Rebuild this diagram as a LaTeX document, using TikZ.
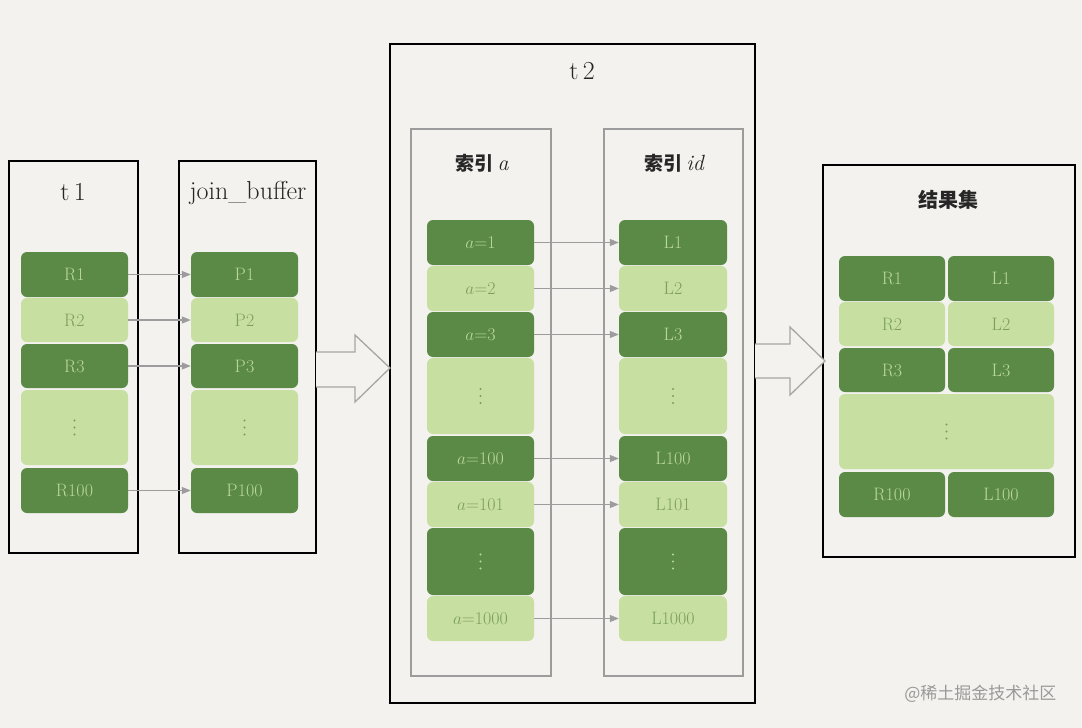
\documentclass[tikz,border=0pt]{standalone}
\usepackage{fontspec}
\newfontfamily\cjk{Noto Sans CJK SC}
\usetikzlibrary{arrows.meta}
\definecolor{bg}{HTML}{F3F2EE}
\definecolor{dkg}{HTML}{5B8A47}
\definecolor{ltg}{HTML}{C8DFA2}
\definecolor{dkt}{HTML}{B9D79A}
\definecolor{ltt}{HTML}{7CA05C}
\definecolor{lineg}{HTML}{9C9C9C}
\tikzset{
  rowbase/.style={rounded corners=6pt, inner sep=0pt, font=\fontsize{18}{21}\selectfont},
  dk/.style={rowbase, fill=dkg, text=dkt},
  lt/.style={rowbase, fill=ltg, text=ltt},
  frame/.style={draw=black, line width=1.6pt, fill=none},
  idxframe/.style={draw=lineg, line width=1.3pt},
  conn/.style={draw=lineg, line width=1.2pt, -{Triangle[length=9pt,width=7pt]}},
  bigarrow/.style={draw=lineg!90, line width=1.3pt, fill=bg},
  title/.style={font=\fontsize{26}{30}\selectfont, text=black!85},
  ctitle/.style={font=\cjk\bfseries\fontsize{19}{22}\selectfont, text=black!85},
}
\newcommand{\rw}[6]{\node[#1, minimum width=#4pt, minimum height=#5pt] (#2) at (#3) {#6};}
% three small dots inside a node
\newcommand{\dts}[2]{\foreach \dy in {-7,0,7} {\fill[#2] ([yshift=\dy pt]#1.center) circle (1.2pt);}}
\begin{document}
\begin{tikzpicture}[x=1pt,y=-1pt]
\fill[bg] (0,0) rectangle (1082,728);
\useasboundingbox (0,0) rectangle (1082,728);

% frames
\draw[frame] (9,161) rectangle (138,553);
\draw[frame] (179,161) rectangle (316,553);
\draw[frame] (390,44) rectangle (755,703);
\draw[frame] (823,165) rectangle (1075,557);
\draw[idxframe] (411,129) rectangle (551,676);
\draw[idxframe] (604,129) rectangle (743,676);

% titles
\node[title] (t1t) at (73,192) {t\,1};
\node[title] (jbt) at (248,193) {join\_buffer};
\node[title] (t2t) at (582,71) {t\,2};
\node[ctitle] (iat) at (482,163) {索引 \rmfamily\mdseries\itshape\fontsize{22}{24}\selectfont a};
\node[ctitle] (iit) at (674,163) {索引 \rmfamily\mdseries\itshape\fontsize{22}{24}\selectfont id};
\node[ctitle, font=\cjk\bfseries\fontsize{20}{24}\selectfont] (rst) at (948,200) {结果集};

% t1 rows
\rw{dk}{r1}{74.5,274.5}{107}{45}{R1}
\rw{lt}{r2}{74.5,320}{107}{44}{R2}
\rw{dk}{r3}{74.5,366}{107}{44}{R3}
\rw{lt}{rd}{74.5,427.5}{107}{75}{}
\rw{dk}{r100}{74.5,490.5}{107}{45}{R100}
% join buffer rows
\rw{dk}{p1}{244.5,274.5}{107}{45}{P1}
\rw{lt}{p2}{244.5,320}{107}{44}{P2}
\rw{dk}{p3}{244.5,366}{107}{44}{P3}
\rw{lt}{pd}{244.5,427.5}{107}{75}{}
\rw{dk}{p100}{244.5,490.5}{107}{45}{P100}

\draw[conn] (r1) -- (p1);
\draw[conn] (r2) -- (p2);
\draw[conn] (r3) -- (p3);
\draw[conn] (r100) -- (p100);

% index a rows
\rw{dk}{a1}{480.5,242.5}{107}{45}{$a$=1}
\rw{lt}{a2}{480.5,288.5}{107}{45}{$a$=2}
\rw{dk}{a3}{480.5,334.5}{107}{45}{$a$=3}
\rw{lt}{ad}{480.5,396}{107}{76}{}
\rw{dk}{a100}{480.5,458.5}{107}{45}{$a$=100}
\rw{lt}{a101}{480.5,504.5}{107}{45}{$a$=101}
\rw{dk}{add}{480.5,561.5}{107}{67}{}
\rw{lt}{a1000}{480.5,618.5}{107}{45}{$a$=1000}
% index id rows
\rw{dk}{l1}{673,242.5}{108}{45}{L1}
\rw{lt}{l2}{673,288.5}{108}{45}{L2}
\rw{dk}{l3}{673,334.5}{108}{45}{L3}
\rw{lt}{ld}{673,396}{108}{76}{}
\rw{dk}{l100}{673,458.5}{108}{45}{L100}
\rw{lt}{l101}{673,504.5}{108}{45}{L101}
\rw{dk}{ldd}{673,561.5}{108}{67}{}
\rw{lt}{l1000}{673,618.5}{108}{45}{L1000}

\draw[conn] (a1) -- (l1);
\draw[conn] (a2) -- (l2);
\draw[conn] (a3) -- (l3);
\draw[conn] (a100) -- (l100);
\draw[conn] (a101) -- (l101);
\draw[conn] (a1000) -- (l1000);

% result rows
\rw{dk}{s1r}{892,278.5}{106}{45}{R1}
\rw{lt}{s2r}{892,324}{106}{44}{R2}
\rw{dk}{s3r}{892,370}{106}{44}{R3}
\rw{lt}{sdr}{946.5,431.5}{215}{75}{}
\rw{dk}{s100r}{892,494.5}{106}{45}{R100}
\rw{dk}{s1l}{1001,278.5}{106}{45}{L1}
\rw{lt}{s2l}{1001,324}{106}{44}{L2}
\rw{dk}{s3l}{1001,370}{106}{44}{L3}
\rw{dk}{s100l}{1001,494.5}{106}{45}{L100}

% dots
\dts{rd}{ltt}
\dts{pd}{ltt}
\dts{ad}{ltt}
\dts{ld}{ltt}
\dts{add}{dkt}
\dts{ldd}{dkt}
\dts{sdr}{ltt}

% big hollow arrows
\draw[bigarrow] (316,352) -- (355,352) -- (355,335) -- (390,368) -- (355,402) -- (355,387) -- (316,387);
\draw[bigarrow] (755,344) -- (790,344) -- (790,327) -- (825,361) -- (790,395) -- (790,378) -- (755,378);

% watermark
\node[font=\cjk\fontsize{17}{20}\selectfont, text=black!40, anchor=east] (wm) at (1060,694) {@稀土掘金技术社区};
\end{tikzpicture}
\end{document}
